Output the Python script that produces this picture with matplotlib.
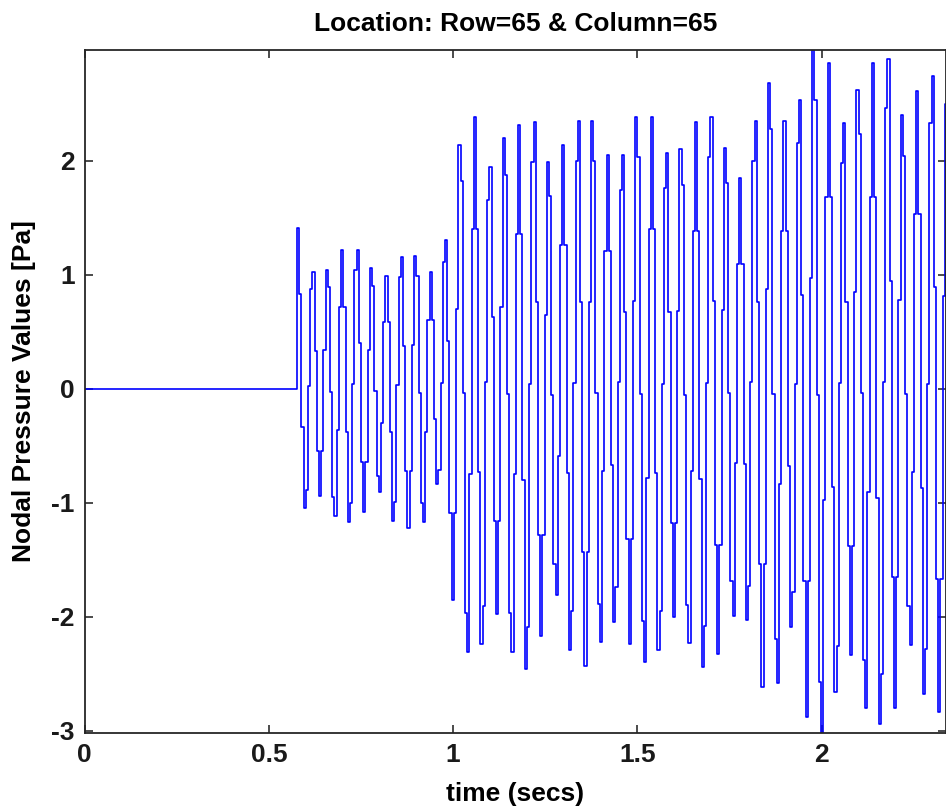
import matplotlib
matplotlib.use('Agg')
import matplotlib.pyplot as plt
import numpy as np

# nodal pressure record at row 65 / column 65
onset_time = 0.576   # secs, signal is zero before this
sample_dt = 0.006    # secs between stored samples

pressure = [
    1.41, 0.83, -0.34, -1.05, -0.89, 0.02, 0.87, 1.02, 0.33, -0.55,
    -0.94, -0.55, 0.34, 1.04, 0.89, -0.03, -0.95, -1.12, -0.36, 0.72,
    1.22, 0.72, -0.38, -1.17, -1.00, 0.04, 1.04, 1.22, 0.40, -0.64,
    -1.08, -0.64, 0.34, 1.06, 0.90, -0.02, -0.77, -0.91, -0.30, 0.58,
    0.99, 0.58, -0.38, -1.16, -0.99, 0.03, 0.98, 1.15, 0.37, -0.72,
    -1.22, -0.72, 0.38, 1.16, 0.99, -0.04, -1.00, -1.17, -0.38, 0.60,
    1.02, 0.60, -0.27, -0.84, -0.71, 0.05, 1.11, 1.30, 0.42, -1.09,
    -1.85, -1.09, 0.70, 2.14, 1.82, -0.04, -1.97, -2.31, -0.75, 1.40,
    2.38, 1.40, -0.73, -2.24, -1.91, 0.06, 1.65, 1.94, 0.63, -1.16,
    -1.98, -1.16, 0.72, 2.20, 1.87, -0.05, -1.97, -2.31, -0.75, 1.36,
    2.31, 1.36, -0.80, -2.46, -2.09, 0.04, 1.99, 2.34, 0.76, -1.28,
    -2.17, -1.28, 0.65, 1.99, 1.69, -0.06, -1.54, -1.81, -0.59, 1.26,
    2.14, 1.26, -0.74, -2.29, -1.95, 0.05, 2.00, 2.35, 0.76, -1.43,
    -2.43, -1.43, 0.76, 2.35, 2.00, -0.04, -1.89, -2.22, -0.72, 1.21,
    2.05, 1.21, -0.67, -2.05, -1.74, 0.06, 1.74, 2.05, 0.67, -1.32,
    -2.24, -1.32, 0.77, 2.38, 2.03, -0.05, -2.04, -2.40, -0.78, 1.40,
    2.38, 1.40, -0.74, -2.29, -1.95, 0.04, 1.76, 2.07, 0.67, -1.18,
    -2.00, -1.18, 0.68, 2.10, 1.79, -0.06, -1.90, -2.23, -0.72, 1.38,
    2.34, 1.38, -0.79, -2.44, -2.08, 0.05, 2.03, 2.38, 0.77, -1.37,
    -2.33, -1.37, 0.69, 2.11, 1.80, -0.04, -1.69, -1.99, -0.65, 1.09,
    1.85, 1.09, -0.66, -2.03, -1.73, 0.06, 2.00, 2.35, 0.76, -1.54,
    -2.62, -1.54, 0.87, 2.68, 2.28, -0.05, -2.20, -2.58, -0.84, 1.38,
    2.35, 1.38, -0.68, -2.09, -1.78, 0.04, 2.15, 2.53, 0.82, -1.69,
    -2.88, -1.69, 0.97, 2.97, 2.53, -0.06, -2.57, -3.02, -0.98, 1.68,
    2.86, 1.68, -0.86, -2.66, -2.26, 0.05, 1.98, 2.33, 0.76, -1.38,
    -2.34, -1.38, 0.85, 2.62, 2.23, -0.04, -2.38, -2.80, -0.91, 1.68,
    2.86, 1.68, -0.96, -2.94, -2.50, 0.06, 2.46, 2.89, 0.94, -1.65,
    -2.80, -1.65, 0.78, 2.40, 2.04, -0.05, -1.91, -2.25, -0.73, 1.53,
    2.61, 1.53, -0.87, -2.68, -2.28, 0.04, 2.33, 2.74, 0.89, -1.67,
    -2.84, -1.67, 0.81, 2.50, 2.13,
]

x_ticks = [0, 0.5, 1, 1.5, 2]
x_ticklabels = ['0', '0.5', '1', '1.5', '2']
y_ticks = [-3, -2, -1, 0, 1, 2]
y_ticklabels = ['-3', '-2', '-1', '0', '1', '2']

t = onset_time + sample_dt * np.arange(len(pressure))
t = np.concatenate([[0.0], t])
p = np.concatenate([[0.0], pressure])

plt.rcParams['font.family'] = ['Liberation Sans', 'DejaVu Sans']
plt.rcParams['font.weight'] = 'bold'

fig = plt.figure(figsize=(9.46, 8.10), dpi=100)
ax = fig.add_axes([0.0894, 0.0951, 0.9106, 0.8432])

ax.plot(t, p, color='#0000ff', linewidth=1.2, drawstyle='steps-post')

ax.set_xlim(0, 2.337)
ax.set_ylim(-3.02, 2.97)
ax.set_xticks(x_ticks)
ax.set_xticklabels(x_ticklabels)
ax.set_yticks(y_ticks)
ax.set_yticklabels(y_ticklabels)

ax.tick_params(direction='in', length=6, width=1.1, top=True, right=True,
               labelsize=19, pad=7, colors='#1a1a1a')
for s in ax.spines.values():
    s.set_linewidth(1.3)
    s.set_color('#262626')

ax.set_title('Location: Row=65 & Column=65', fontsize=19, fontweight='bold', pad=14)
ax.set_xlabel('time (secs)', fontsize=19, fontweight='bold', labelpad=11)
ax.set_ylabel('Nodal Pressure Values [Pa]', fontsize=19, fontweight='bold', labelpad=11)

fig.savefig('out.png', dpi=100)
